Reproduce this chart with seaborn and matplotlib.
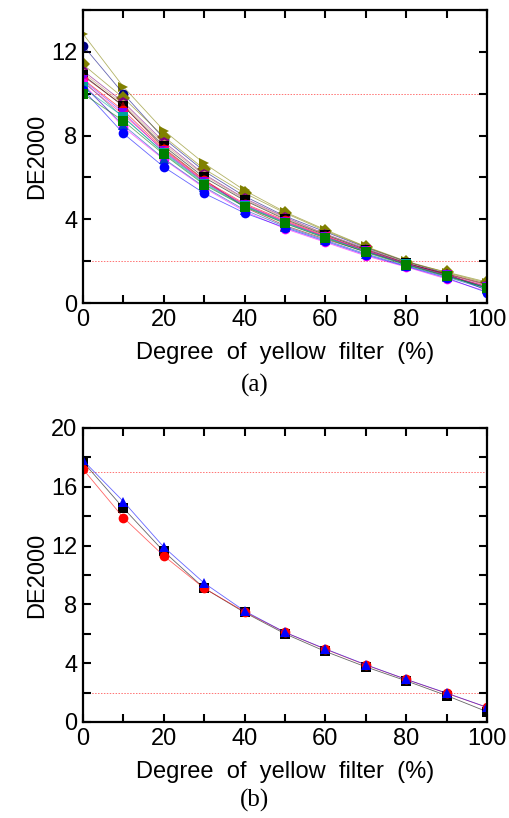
import matplotlib
matplotlib.use("Agg")
import matplotlib.pyplot as plt
import seaborn as sns
import numpy as np
import pandas as pd
from matplotlib.ticker import MultipleLocator

sns.set_theme(style="ticks")
plt.rcParams['font.family'] = ['Liberation Sans', 'DejaVu Sans']
plt.rcParams['text.color'] = 'black'
plt.rcParams['axes.labelcolor'] = 'black'
plt.rcParams['xtick.color'] = 'black'
plt.rcParams['ytick.color'] = 'black'

degree = [0, 10, 20, 30, 40, 50, 60, 70, 80, 90, 100]

# Panel (a): many samples
series_a = {
    "s01": ([12.86, 10.33, 8.24, 6.67, 5.38, 4.35, 3.50, 2.70, 2.00, 1.45, 0.95], "#808000", ">"),
    "s02": ([12.30, 10.00, 7.86, 6.30, 5.10, 4.15, 3.40, 2.65, 1.98, 1.40, 0.60], "#000080", "o"),
    "s03": ([11.40, 9.80, 7.95, 6.40, 5.25, 4.30, 3.45, 2.68, 1.96, 1.48, 1.00], "#808000", "D"),
    "s04": ([11.10, 9.60, 7.70, 6.15, 5.00, 4.10, 3.30, 2.60, 1.92, 1.38, 0.85], "#800080", "p"),
    "s05": ([11.00, 9.50, 7.60, 6.10, 4.95, 4.05, 3.28, 2.58, 1.92, 1.36, 0.88], "#c09060", "h"),
    "s06": ([10.90, 9.40, 7.50, 6.00, 4.90, 4.00, 3.25, 2.55, 1.90, 1.35, 0.70], "#000000", "s"),
    "s07": ([10.85, 9.43, 7.40, 5.90, 4.57, 3.70, 3.05, 2.45, 1.88, 1.40, 0.90], "#800000", "^"),
    "s08": ([10.70, 9.20, 7.35, 5.86, 4.75, 3.95, 3.20, 2.50, 1.85, 1.30, 0.80], "#ff0000", "o"),
    "s09": ([10.65, 9.10, 7.25, 5.80, 4.68, 3.88, 3.15, 2.50, 1.86, 1.32, 0.76], "#8000ff", "v"),
    "s10": ([10.60, 8.86, 7.20, 5.75, 4.65, 3.85, 3.15, 2.48, 1.86, 1.32, 0.75], "#008080", "*"),
    "s11": ([10.55, 9.00, 7.30, 5.80, 4.70, 3.90, 3.18, 2.52, 1.88, 1.33, 0.78], "#ff0080", "<"),
    "s12": ([10.50, 8.40, 6.86, 5.50, 4.38, 3.55, 2.90, 2.25, 1.72, 1.15, 0.55], "#ff00ff", "o"),
    "s13": ([10.40, 8.50, 6.90, 5.55, 4.45, 3.65, 3.00, 2.35, 1.78, 1.25, 0.65], "#0040c0", "^"),
    "s14": ([10.30, 8.90, 7.15, 5.70, 4.62, 3.82, 3.12, 2.45, 1.84, 1.30, 0.70], "#00a0a0", "s"),
    "s15": ([10.20, 8.10, 6.50, 5.24, 4.30, 3.60, 2.95, 2.30, 1.75, 1.20, 0.50], "#0000ff", "o"),
    "s16": ([10.00, 8.70, 7.10, 5.65, 4.60, 3.80, 3.10, 2.42, 1.82, 1.28, 0.72], "#008000", "s"),
}

# Panel (b): three samples
series_b = {
    "black": ([17.70, 14.55, 11.60, 9.10, 7.45, 6.00, 4.80, 3.75, 2.80, 1.80, 0.70], "#000000", "s"),
    "red":   ([17.20, 13.90, 11.30, 9.10, 7.50, 6.10, 4.95, 3.88, 2.90, 1.95, 1.00], "#ff0000", "o"),
    "blue":  ([17.80, 15.00, 11.90, 9.45, 7.55, 6.10, 4.97, 3.90, 2.90, 1.97, 1.00], "#0000ff", "^"),
}

thresholds_a = [10, 2]
thresholds_b = [17, 2]

fig = plt.figure(figsize=(5.1, 8.18), dpi=100)
ax1 = fig.add_axes([83/510, 1-303/818, 404/510, 293/818])
ax2 = fig.add_axes([83/510, 1-722/818, 404/510, 294/818])

def draw(ax, series, thresholds, ymax, ystep):
    for t in thresholds:
        ax.axhline(t, color="#ff5050", linestyle=(0, (1.5, 1.5)), linewidth=0.7,
                   alpha=0.8, zorder=0)
    for name, (vals, col, mk) in series.items():
        df = pd.DataFrame({"x": degree, "y": vals})
        sns.lineplot(data=df, x="x", y="y", ax=ax, color=col, linewidth=0.6,
                     alpha=0.6)
        ax.plot(degree, vals, linestyle="none", marker=mk, color=col,
                markersize=7, markeredgewidth=0)
    ax.set_xlim(0, 100)
    ax.set_ylim(0, ymax)
    ax.xaxis.set_major_locator(MultipleLocator(20))
    ax.xaxis.set_minor_locator(MultipleLocator(10))
    ax.yaxis.set_major_locator(MultipleLocator(ystep))
    ax.yaxis.set_minor_locator(MultipleLocator(ystep/2))
    ax.tick_params(which="both", direction="in", top=True, right=True,
                   width=1.5, length=6, labelsize=17, pad=4, colors="black")
    for sp in ax.spines.values():
        sp.set_linewidth(1.6)
        sp.set_color("black")
    ax.set_xlabel("Degree  of  yellow  filter  (%)", fontsize=17, labelpad=8)
    ax.set_ylabel("DE2000", fontsize=17, labelpad=2)

draw(ax1, series_a, thresholds_a, 14, 4)
draw(ax2, series_b, thresholds_b, 20, 4)

fig.text(0.5, 1-385/818, "(a)", ha="center", va="center", fontsize=18,
         family=["Liberation Serif", "DejaVu Serif"])
fig.text(0.5, 1-800/818, "(b)", ha="center", va="center", fontsize=18,
         family=["Liberation Serif", "DejaVu Serif"])

fig.savefig("out.png", dpi=100)
